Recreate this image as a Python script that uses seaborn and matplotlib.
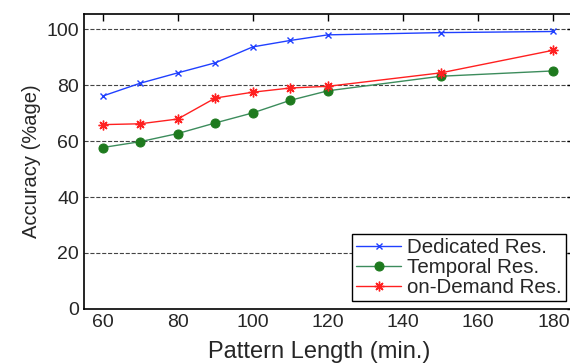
import matplotlib
matplotlib.use('Agg')
import matplotlib.pyplot as plt
import seaborn as sns
import pandas as pd

pattern_len = [60, 70, 80, 90, 100, 110, 120, 150, 180]
dedicated = [76.1, 80.7, 84.4, 88.0, 93.7, 96.0, 98.0, 98.8, 99.2]
temporal = [57.7, 59.8, 62.7, 66.5, 70.1, 74.6, 78.0, 83.2, 85.1]
on_demand = [65.9, 66.2, 67.9, 75.4, 77.5, 79.0, 79.6, 84.4, 92.5]

series_names = ['Dedicated Res.', 'Temporal Res.', 'on-Demand Res.']

sns.set_style('white')
plt.rcParams['font.family'] = ['Liberation Sans', 'DejaVu Sans']

fig = plt.figure(figsize=(5.7, 3.63), dpi=100)
ax = fig.add_axes([0.147, 0.149, 0.86, 0.812])

# seaborn sets white marker edges by default, so give every edge a colour
styles = [
    dict(color='#2040ff', marker='x', markersize=5, markeredgewidth=1.0,
         markeredgecolor='#2040ff'),
    dict(color='#3c8c5c', marker='o', markersize=6.5, markerfacecolor='#1e7a1e',
         markeredgecolor='#1e7a1e'),
    dict(color='#ff2020', marker=(8, 2, 0), markersize=7, markeredgewidth=1.0,
         markeredgecolor='#ff2020'),
]

for name, vals, st in zip(series_names, [dedicated, temporal, on_demand], styles):
    df = pd.DataFrame({'x': pattern_len, 'y': vals})
    sns.lineplot(data=df, x='x', y='y', ax=ax, label=name, linewidth=1.0, **st)

ax.set_xlim(55, 185.5)
ax.set_ylim(0, 105.4)
ax.set_xticks([60, 80, 100, 120, 140, 160, 180])
ax.set_yticks([0, 20, 40, 60, 80, 100])
for yv in [20, 40, 60, 80, 100]:
    ax.axhline(yv, color='#444444', linestyle='--', linewidth=0.8, zorder=0)

ax.tick_params(direction='in', top=True, right=True, labelsize=14, length=5, width=1, color='black')
for sp in ax.spines.values():
    sp.set_color('black')
    sp.set_linewidth(1.2)

ax.set_xlabel('Pattern Length (min.)', fontsize=17)
ax.xaxis.set_label_coords(0.48, -0.11)
ax.set_ylabel('Accuracy (%age)', fontsize=14.5)

leg = ax.legend(loc='lower left', bbox_to_anchor=(0.547, 0.027), fontsize=14.8,
                frameon=True, fancybox=False, edgecolor='black', framealpha=1,
                borderpad=0.2, labelspacing=0.05, handlelength=2.2, handletextpad=0.3,
                borderaxespad=0)
leg.get_frame().set_linewidth(1.0)

fig.savefig('out.png', dpi=100)
